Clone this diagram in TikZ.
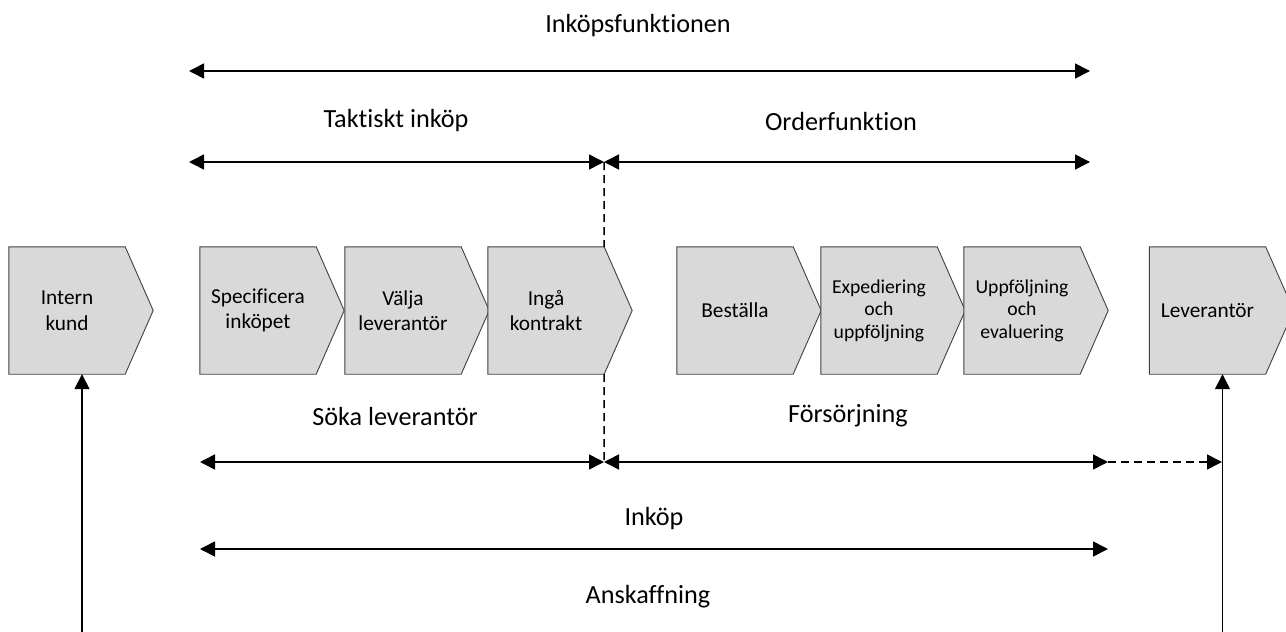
\documentclass[tikz,border=0pt]{standalone}
\usepackage{fontspec}
\setmainfont{Carlito}[Ligatures={NoCommon}]
\usetikzlibrary{arrows.meta,backgrounds}

\begin{document}
\begin{tikzpicture}[x=1pt, y=-1pt,
    chev/.style={minimum width=116pt, minimum height=127pt, inner sep=0pt, align=center, font=\fontsize{21.3}{25.6}\selectfont},
    chevsmall/.style={chev, font=\fontsize{19.7}{22.5}\selectfont},
    chevline/.style={fill=black!15, draw=black!75, line width=0.9pt, line join=miter},
    lbl/.style={inner sep=0pt, font=\fontsize{26.2}{31}\selectfont},
    twoway/.style={line width=1.6pt, {Triangle[length=15pt,width=15pt]}-{Triangle[length=15pt,width=15pt]}},
    oneway/.style={line width=1.6pt, -{Triangle[length=15pt,width=15pt]}},
    dashline/.style={line width=1.5pt, dash pattern=on 8pt off 5pt}]
    \useasboundingbox (0,0) rectangle (1286,632);

    % process steps
    \node[chev] (kund) at (67,310.5) {Intern\\kund};
    \node[chev] (spec) at (258,310.5) {Specificera\\inköpet};
    \node[chev] (valja) at (403,310.5) {Välja\\leverantör};
    \node[chev] (inga) at (546,310.5) {Ingå\\kontrakt};
    \node[chev] (best) at (735,310.5) {Beställa};
    \node[chevsmall] (exped) at (879,310.5) {Expediering\\och\\uppföljning};
    \node[chevsmall] (uppf) at (1022,310.5) {Uppföljning\\och\\evaluering};
    \node[chev] (lev) at (1207.5,310.5) {Leverantör};

    \begin{scope}[on background layer]
        \foreach \b in {kund,spec,valja,inga,best,exped,uppf,lev}
            \filldraw[chevline] (\b.north west) -- (\b.north east) -- ([xshift=28pt]\b.east)
                -- (\b.south east) -- (\b.south west) -- cycle;
    \end{scope}

    % labels
    \node[lbl] (funk) at (638,26) {Inköpsfunktionen};
    \node[lbl] (takt) at (396,121) {Taktiskt inköp};
    \node[lbl] (order) at (841,121) {Orderfunktion};
    \node[lbl] (soka) at (395,416) {Söka leverantör};
    \node[lbl] (fors) at (848,416) {Försörjning};
    \node[lbl] (inkop) at (654,519) {Inköp};
    \node[lbl] (ansk) at (648,597) {Anskaffning};

    % arrow ends
    \coordinate (f1) at (189,71);
    \coordinate (f2) at (1090,71);
    \coordinate (t1) at (189,162);
    \coordinate (tm) at (604,162);
    \coordinate (t2) at (1090,162);
    \coordinate (s1) at (200,462);
    \coordinate (sm) at (604,462);
    \coordinate (s2) at (1108,462);
    \coordinate (levin) at (1222,462);
    \coordinate (i1) at (200,549);
    \coordinate (i2) at (1108,549);
    \coordinate (kundfoot) at ([xshift=15pt]kund.south |- 0,632);
    \coordinate (levfoot) at ([xshift=15pt]lev.south |- 0,632);

    \draw[twoway] (f1) -- (f2);
    \draw[twoway] (t1) -- (tm);
    \draw[twoway] (tm) -- (t2);
    \draw[twoway] (s1) -- (sm);
    \draw[twoway] (sm) -- (s2);
    \draw[twoway] (i1) -- (i2);
    \draw[dashline] (tm) -- (inga.north east);
    \draw[dashline] (inga.south east) -- (sm);
    \draw[dashline, -{Triangle[length=15pt,width=15pt]}] (s2) -- (levin);
    \draw[oneway] (kundfoot) -- ([xshift=15pt]kund.south);
    \draw[oneway] (levfoot) -- ([xshift=15pt]lev.south);
\end{tikzpicture}
\end{document}
